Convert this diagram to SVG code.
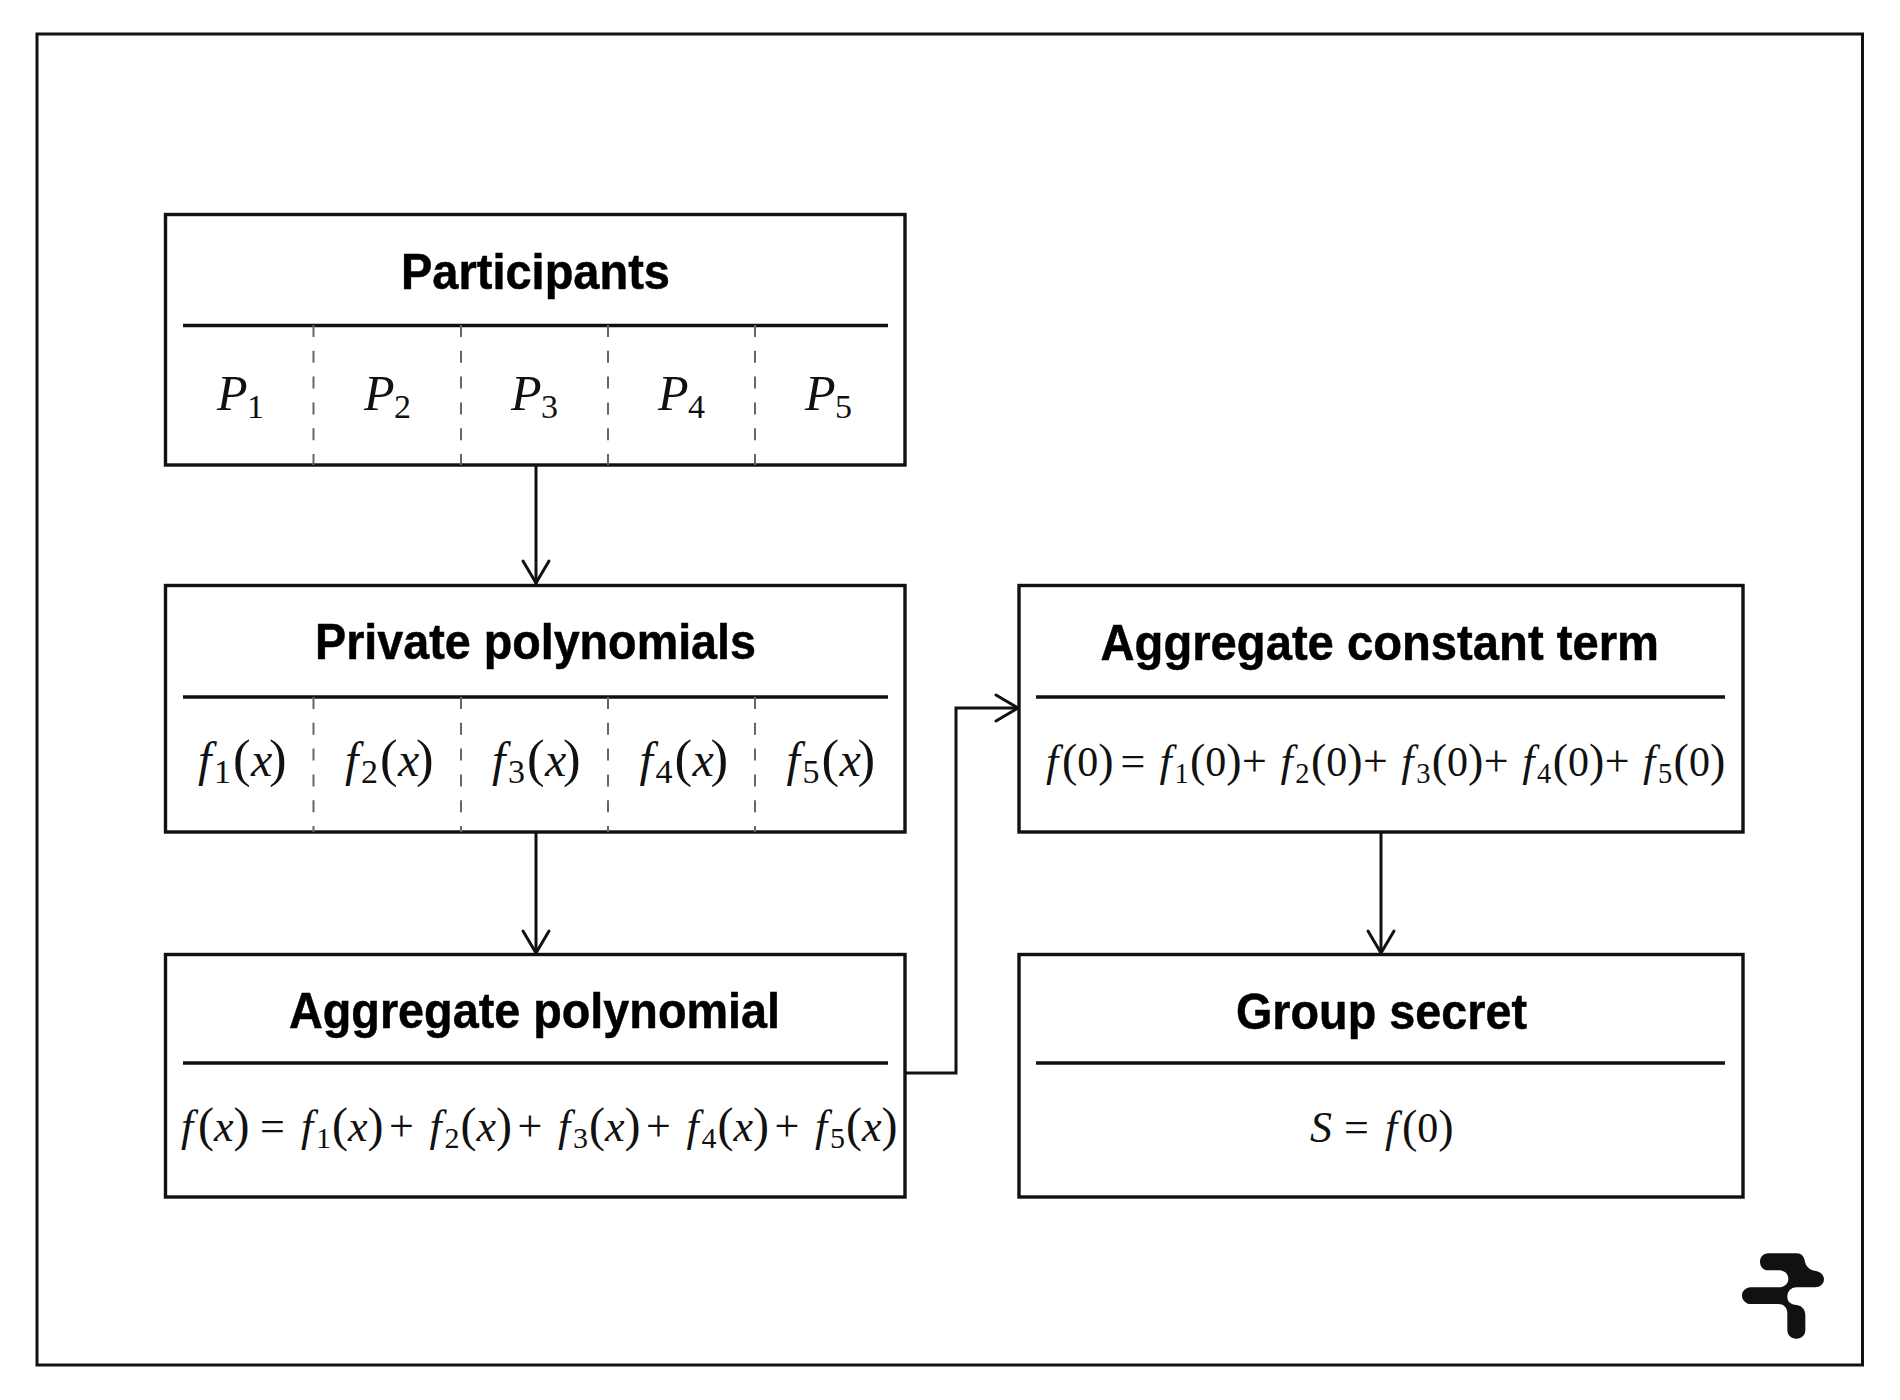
<svg xmlns="http://www.w3.org/2000/svg" width="1900" height="1400" viewBox="0 0 1900 1400">
<defs>
<style>
.box{fill:#fff;stroke:#111;stroke-width:3.4}
.rule{stroke:#111;stroke-width:3.4;fill:none}
.dash{stroke:#666;stroke-width:2;fill:none;stroke-dasharray:12 13.8}
.conn{stroke:#111;stroke-width:3;fill:none}
.title{font-family:"Liberation Sans",Arial,sans-serif;font-weight:700;font-size:50px;fill:#000;stroke:#000;stroke-width:.5}
.m{font-family:"Liberation Serif","Times New Roman",serif;font-style:italic;font-size:44px;fill:#111}
.big{font-size:48px}
.p{font-size:50px}
.r{font-style:normal}
.par{font-style:normal;font-size:48px}
.big .par{font-size:53px}
.s{font-style:normal;font-size:30px}
.big .s{font-size:34px}
.p .s{font-size:34px}
.t .par{font-size:46px}
.t .s{font-size:28.5px}
.z{font-style:normal;font-size:42px}
</style>
<marker id="head" markerUnits="userSpaceOnUse" markerWidth="30" markerHeight="34" refX="25" refY="15" orient="auto" overflow="visible">
<path d="M2 2 L24 15 L2 28" fill="none" stroke="#111" stroke-width="3" stroke-linejoin="round" stroke-linecap="round"/>
</marker>
</defs>
<rect width="1900" height="1400" fill="#fff"/>
<rect id="frame" x="37" y="34" width="1825.5" height="1331" fill="none" stroke="#111" stroke-width="3"/>
<g id="n-participants">
<rect class="box" x="165.5" y="214.5" width="739.5" height="250.5"/>
<text class="title" x="401" y="289" textLength="269" lengthAdjust="spacingAndGlyphs">Participants</text>
<path class="rule" d="M183 325.5H888"/>
<path class="dash" d="M313.5 325V465M461 325V465M608 325V465M755 325V465"/>
<text class="m p" y="410"><tspan x="217">P</tspan><tspan class="s" x="247" y="418">1</tspan></text>
<text class="m p" y="410"><tspan x="364">P</tspan><tspan class="s" x="394" y="418">2</tspan></text>
<text class="m p" y="410"><tspan x="511">P</tspan><tspan class="s" x="541" y="418">3</tspan></text>
<text class="m p" y="410"><tspan x="658">P</tspan><tspan class="s" x="688" y="418">4</tspan></text>
<text class="m p" y="410"><tspan x="805">P</tspan><tspan class="s" x="835" y="418">5</tspan></text>
</g>
<g id="n-private">
<rect class="box" x="165.5" y="585.5" width="739.5" height="246.5"/>
<text class="title" x="315" y="659" textLength="441" lengthAdjust="spacingAndGlyphs">Private polynomials</text>
<path class="rule" d="M183 697H888"/>
<path class="dash" d="M313.5 697V832M461 697V832M608 697V832M755 697V832"/>
<text class="m big"><tspan x="198" y="776">f</tspan><tspan class="s" x="214" y="783">1</tspan><tspan class="par" x="233" y="776">(</tspan><tspan x="251">x</tspan><tspan class="par" x="269">)</tspan></text>
<text class="m big"><tspan x="345" y="776">f</tspan><tspan class="s" x="361" y="783">2</tspan><tspan class="par" x="380" y="776">(</tspan><tspan x="398">x</tspan><tspan class="par" x="416">)</tspan></text>
<text class="m big"><tspan x="492" y="776">f</tspan><tspan class="s" x="508" y="783">3</tspan><tspan class="par" x="527" y="776">(</tspan><tspan x="545">x</tspan><tspan class="par" x="563">)</tspan></text>
<text class="m big"><tspan x="639.5" y="776">f</tspan><tspan class="s" x="655.5" y="783">4</tspan><tspan class="par" x="674.5" y="776">(</tspan><tspan x="692.5">x</tspan><tspan class="par" x="710.5">)</tspan></text>
<text class="m big"><tspan x="786.5" y="776">f</tspan><tspan class="s" x="802.5" y="783">5</tspan><tspan class="par" x="821.5" y="776">(</tspan><tspan x="839.5">x</tspan><tspan class="par" x="857.5">)</tspan></text>
</g>
<g id="n-aggregate-poly">
<rect class="box" x="165.5" y="954.5" width="739.5" height="242.5"/>
<text class="title" x="289" y="1028" textLength="491" lengthAdjust="spacingAndGlyphs">Aggregate polynomial</text>
<path class="rule" d="M183 1063H888"/>
<text class="m" y="1141"><tspan x="181">f</tspan><tspan class="par" x="198">(</tspan><tspan x="214">x</tspan><tspan class="par" x="233.5">)</tspan><tspan class="r" x="260">=</tspan><tspan x="301">f</tspan><tspan class="s" x="316" y="1148">1</tspan><tspan class="par" x="332" y="1141">(</tspan><tspan x="348">x</tspan><tspan class="par" x="367.5">)</tspan><tspan class="r" x="389">+</tspan><tspan x="429.5">f</tspan><tspan class="s" x="444.5" y="1148">2</tspan><tspan class="par" x="460.5" y="1141">(</tspan><tspan x="476.5">x</tspan><tspan class="par" x="496">)</tspan><tspan class="r" x="517.5">+</tspan><tspan x="558">f</tspan><tspan class="s" x="573" y="1148">3</tspan><tspan class="par" x="589" y="1141">(</tspan><tspan x="605">x</tspan><tspan class="par" x="624.5">)</tspan><tspan class="r" x="646">+</tspan><tspan x="686.5">f</tspan><tspan class="s" x="701.5" y="1148">4</tspan><tspan class="par" x="717.5" y="1141">(</tspan><tspan x="733.5">x</tspan><tspan class="par" x="753">)</tspan><tspan class="r" x="774.5">+</tspan><tspan x="815">f</tspan><tspan class="s" x="830" y="1148">5</tspan><tspan class="par" x="846" y="1141">(</tspan><tspan x="862">x</tspan><tspan class="par" x="881.5">)</tspan></text>
</g>
<g id="n-constant-term">
<rect class="box" x="1019" y="585.5" width="724" height="246.5"/>
<text class="title" x="1100.5" y="660" textLength="558.5" lengthAdjust="spacingAndGlyphs">Aggregate constant term</text>
<path class="rule" d="M1036 697H1725"/>
<text class="m t" y="776"><tspan x="1046">f</tspan><tspan class="par" x="1062">(</tspan><tspan class="z" x="1077.3">0</tspan><tspan class="par" x="1098.3">)</tspan><tspan class="r" x="1120.4">=</tspan><tspan x="1159.5">f</tspan><tspan class="s" x="1174.4" y="783">1</tspan><tspan class="par" x="1190" y="776">(</tspan><tspan class="z" x="1205.3">0</tspan><tspan class="par" x="1226.3">)</tspan><tspan class="r" x="1242">+</tspan><tspan x="1280.4">f</tspan><tspan class="s" x="1295.3" y="783">2</tspan><tspan class="par" x="1310.9" y="776">(</tspan><tspan class="z" x="1326.2">0</tspan><tspan class="par" x="1347.2">)</tspan><tspan class="r" x="1362.9">+</tspan><tspan x="1401.3">f</tspan><tspan class="s" x="1416.2" y="783">3</tspan><tspan class="par" x="1431.8" y="776">(</tspan><tspan class="z" x="1447.1">0</tspan><tspan class="par" x="1468.1">)</tspan><tspan class="r" x="1483.8">+</tspan><tspan x="1522.2">f</tspan><tspan class="s" x="1537.1" y="783">4</tspan><tspan class="par" x="1552.7" y="776">(</tspan><tspan class="z" x="1568">0</tspan><tspan class="par" x="1589">)</tspan><tspan class="r" x="1604.7">+</tspan><tspan x="1643.1">f</tspan><tspan class="s" x="1658" y="783">5</tspan><tspan class="par" x="1673.6" y="776">(</tspan><tspan class="z" x="1688.9">0</tspan><tspan class="par" x="1709.9">)</tspan></text>
</g>
<g id="n-group-secret">
<rect class="box" x="1019" y="954.5" width="724" height="242.5"/>
<text class="title" x="1236" y="1029" textLength="291" lengthAdjust="spacingAndGlyphs">Group secret</text>
<path class="rule" d="M1036 1063H1725"/>
<text class="m t" y="1141.5"><tspan x="1310">S</tspan><tspan class="r" x="1344">=</tspan><tspan x="1385">f</tspan><tspan class="par" x="1402">(</tspan><tspan class="z" x="1417.3">0</tspan><tspan class="par" x="1438.3">)</tspan></text>
</g>
<g id="connectors">
<path class="conn" d="M536 465V584" marker-end="url(#head)"/>
<path class="conn" d="M536 832V954" marker-end="url(#head)"/>
<path class="conn" d="M905 1073H956V708H1019" marker-end="url(#head)"/>
<path class="conn" d="M1381 832V954" marker-end="url(#head)"/>
</g>
<g id="logo" transform="translate(1700 1220) scale(.33333)">
<path fill="#111" d="M205 100H290C305 100 312 110 315 125C318 140 330 150 345 152C362 155 372 165 372 178C372 192 360 202 345 202H290C272 202 262 215 262 230C262 245 272 253 290 255C305 257 316 268 316 285V330C316 345 305 356 289 356C273 356 262 345 262 330V280C262 262 250 252 235 252H152C138 252 126 240 126 227C126 213 138 202 152 202H235C255 202 265 190 265 177C265 162 255 151 235 151H205C190 151 180 140 180 125C180 112 190 100 205 100Z"/>
</g>
</svg>
